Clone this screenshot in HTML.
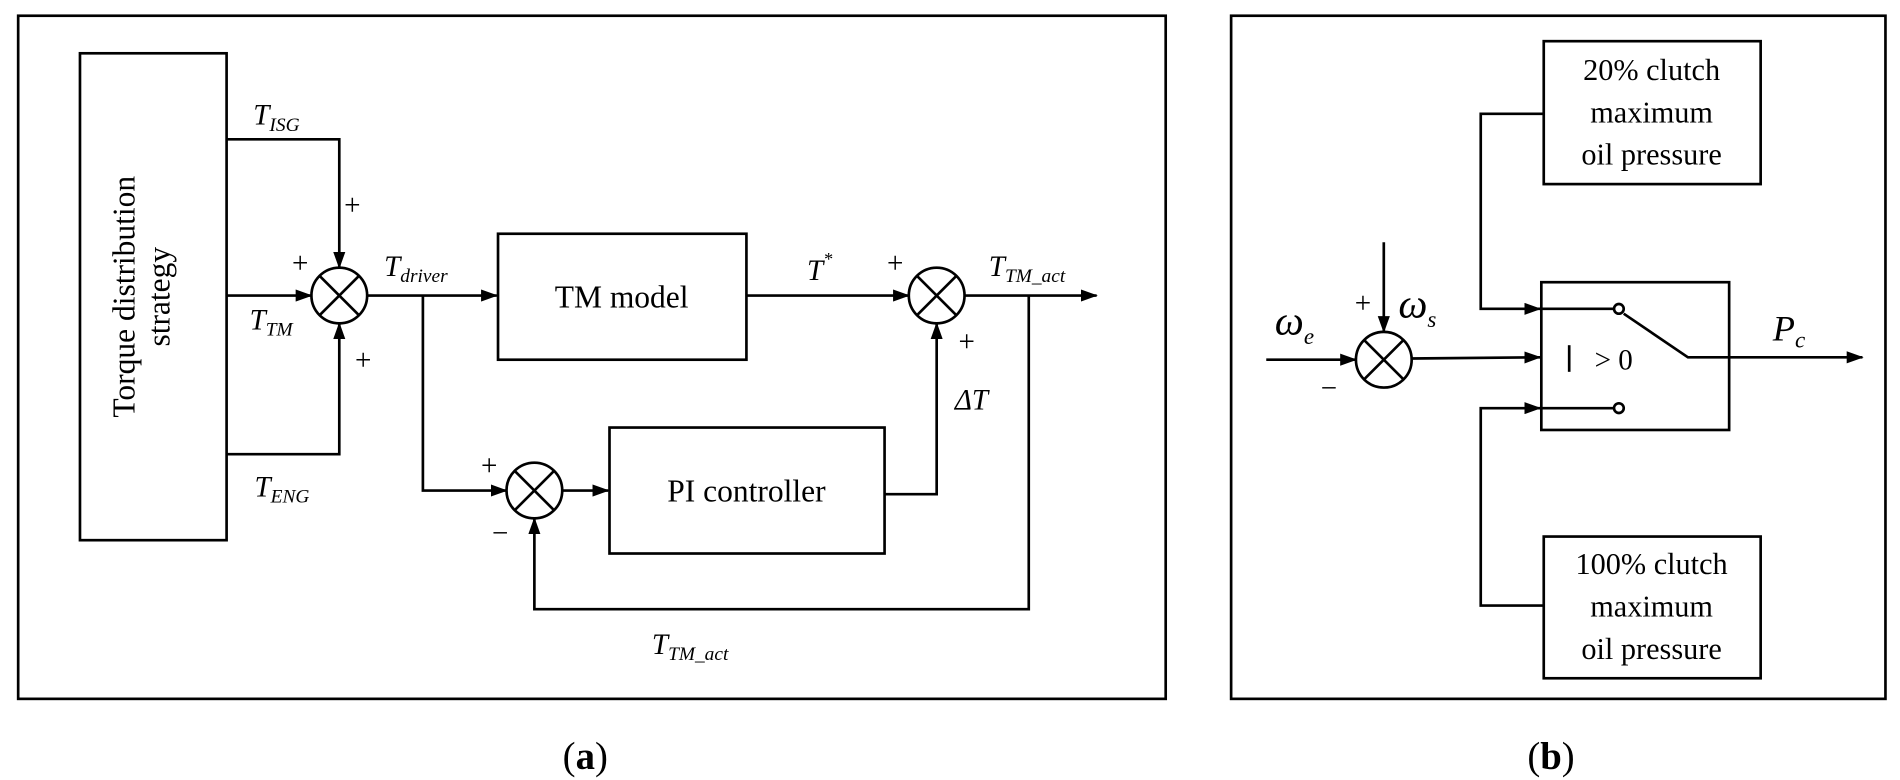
<!DOCTYPE html>
<html><head><meta charset="utf-8"><style>
html,body{margin:0;padding:0;background:#fff;}
svg{display:block;}
text{font-family:"Liberation Serif",serif;fill:#000;}
.i{font-style:italic;}
</style></head><body>
<svg width="1900" height="780" viewBox="0 0 1568 644" preserveAspectRatio="none" xmlns="http://www.w3.org/2000/svg">
<defs>
<marker id="a" markerWidth="14" markerHeight="10" refX="13" refY="5" orient="auto" markerUnits="userSpaceOnUse"><path d="M0,0 L14,5 L0,10 z" fill="#000"/></marker>
</defs>
<g fill="none" stroke="#000" stroke-width="2.2">
<rect x="15" y="13" width="947" height="564"/>
<rect x="1016" y="13" width="540" height="564"/>
<rect x="66" y="44" width="121" height="402"/>
<rect x="411" y="193" width="205" height="104"/>
<rect x="503" y="353" width="227" height="104"/>
<circle cx="280" cy="244" r="23"/>
<circle cx="441" cy="405" r="23"/>
<circle cx="773" cy="244" r="23"/>
<path d="M264,228 L296,260 M296,228 L264,260"/>
<path d="M425,389 L457,421 M457,389 L425,421"/>
<path d="M757,228 L789,260 M789,228 L757,260"/>
<polyline points="187,115 280,115 280,221" marker-end="url(#a)"/>
<line x1="187" y1="244" x2="257" y2="244" marker-end="url(#a)"/>
<polyline points="187,375 280,375 280,267" marker-end="url(#a)"/>
<line x1="303" y1="244" x2="410" y2="244" marker-end="url(#a)"/>
<polyline points="349,244 349,405 418,405" marker-end="url(#a)"/>
<line x1="464" y1="405" x2="502" y2="405" marker-end="url(#a)"/>
<polyline points="730,408 773,408 773,267" marker-end="url(#a)"/>
<line x1="616" y1="244" x2="750" y2="244" marker-end="url(#a)"/>
<line x1="796" y1="244" x2="905" y2="244" marker-end="url(#a)"/>
<polyline points="849,244 849,503 441,503 441,428" marker-end="url(#a)"/>

<rect x="1274" y="34" width="179" height="118"/>
<rect x="1274" y="443" width="179" height="117"/>
<rect x="1272" y="233" width="155" height="122"/>
<polyline points="1274,94 1222,94 1222,255 1271,255" marker-end="url(#a)"/>
<polyline points="1274,500 1222,500 1222,337 1271,337" marker-end="url(#a)"/>
<line x1="1272" y1="255" x2="1332" y2="255"/>
<line x1="1272" y1="337" x2="1332" y2="337"/>
<circle cx="1336" cy="255" r="4"/>
<circle cx="1336" cy="337" r="4"/>
<polyline points="1340,259 1393,295 1427,295"/>
<line x1="1427" y1="295" x2="1537" y2="295" marker-end="url(#a)"/>
<circle cx="1142" cy="297" r="23"/>
<path d="M1126,281 L1158,313 M1158,281 L1126,313"/>
<line x1="1142" y1="200" x2="1142" y2="274" marker-end="url(#a)"/>
<line x1="1045" y1="297" x2="1119" y2="297" marker-end="url(#a)"/>
<line x1="1165" y1="296" x2="1271" y2="295" marker-end="url(#a)"/>
<line x1="1295" y1="285" x2="1295" y2="307"/>
</g>
<text transform="translate(117,245) rotate(-90)" text-anchor="middle" font-size="26"><tspan x="0" y="-6">Torque distribution</tspan><tspan x="0" y="23">strategy</tspan></text>
<text x="513" y="254" text-anchor="middle" font-size="26">TM model</text>
<text x="616" y="414" text-anchor="middle" font-size="26">PI controller</text>
<g font-size="24">
<text x="209" y="103" class="i">T<tspan font-size="16" dy="5">ISG</tspan></text>
<text x="206" y="272" class="i">T<tspan font-size="16" dy="5">TM</tspan></text>
<text x="210" y="410" class="i">T<tspan font-size="16" dy="5">ENG</tspan></text>
<text x="317" y="228" class="i">T<tspan font-size="16" dy="5">driver</tspan></text>
<text x="666" y="231" class="i">T<tspan font-size="15" dy="-12">*</tspan></text>
<text x="816" y="228" class="i">T<tspan font-size="16" dy="5">TM_act</tspan></text>
<text x="538" y="540" class="i">T<tspan font-size="16" dy="5">TM_act</tspan></text>
<text x="788" y="338" class="i">ΔT</text>
</g>
<g font-size="24">
<text x="284" y="177">+</text>
<text x="241" y="225">+</text>
<text x="293" y="305">+</text>
<text x="732" y="225">+</text>
<text x="791" y="290">+</text>
<text x="397" y="392">+</text>
<text x="406" y="448">−</text>
<text x="1118" y="258">+</text>
<text x="1090" y="328">−</text>
</g>
<g font-size="25" text-anchor="middle">
<text x="1363" y="66">20% clutch</text>
<text x="1363" y="101">maximum</text>
<text x="1363" y="136">oil pressure</text>
<text x="1363" y="474">100% clutch</text>
<text x="1363" y="509">maximum</text>
<text x="1363" y="544">oil pressure</text>
</g>
<text x="1316" y="305" font-size="24">&gt; 0</text>
<text x="1154" y="262" font-size="34" class="i">ω<tspan font-size="19" dy="8">s</tspan></text>
<text x="1052" y="276" font-size="34" class="i">ω<tspan font-size="19" dy="8">e</tspan></text>
<text x="1463" y="281" font-size="30" class="i">P<tspan font-size="19" dy="6">c</tspan></text>
<text x="483" y="635" text-anchor="middle" font-size="32">(<tspan font-weight="bold">a</tspan>)</text>
<text x="1280" y="635" text-anchor="middle" font-size="32">(<tspan font-weight="bold">b</tspan>)</text>
</svg>
</body></html>
